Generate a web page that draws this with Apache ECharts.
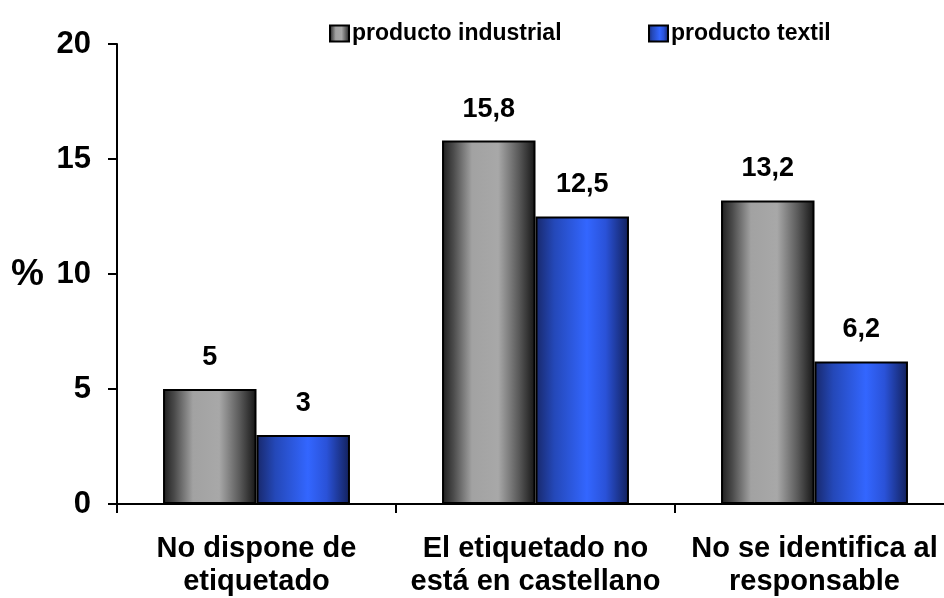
<!DOCTYPE html>
<html><head><meta charset="utf-8">
<script src="https://cdn.jsdelivr.net/npm/echarts@6/dist/echarts.min.js"></script>
<style>html,body{margin:0;padding:0;background:#fff}#c{width:944px;height:598px}</style>
</head><body><div id="c"></div>
<script>
const categories = ['No dispone de\netiquetado', 'El etiquetado no\nestá en castellano', 'No se identifica al\nresponsable'];
const industrial = [5, 15.8, 13.2];
const textil = [3, 12.5, 6.2];
const seriesNames = ['producto industrial', 'producto textil'];

const font = 'Arial, "Liberation Sans", sans-serif';
const grayGrad = new echarts.graphic.LinearGradient(0, 0, 1, 0, [
  {offset: 0, color: '#1e1e1e'}, {offset: 0.12, color: '#4a4a4a'}, {offset: 0.32, color: '#a2a2a2'},
  {offset: 0.6, color: '#a8a8a8'}, {offset: 0.82, color: '#5a5a5a'}, {offset: 1, color: '#141414'}]);
const blueGrad = new echarts.graphic.LinearGradient(0, 0, 1, 0, [
  {offset: 0, color: '#18286a'}, {offset: 0.2, color: '#2448b8'}, {offset: 0.55, color: '#3366ff'},
  {offset: 0.75, color: '#2a52d8'}, {offset: 1, color: '#12205a'}]);

const lbl = {show: true, position: 'top', distance: 18, color: '#000', fontWeight: 'bold', fontSize: 27, fontFamily: font,
  formatter: p => String(p.value).replace('.', ',')};

const legendText = {fontWeight: 'bold', fontSize: 23, fontFamily: font, color: '#000', padding: [0,0,0,-2]};

const chart = echarts.init(document.getElementById('c'));
chart.setOption({
  animation: false,
  grid: {left: 117, top: 44, right: -10, bottom: 94, containLabel: false, outerBoundsMode: 'none'},
  legend: [
    {data: [seriesNames[0]], left: 324, top: 17, icon: 'rect', itemWidth: 19, itemHeight: 16, itemGap: 4, textStyle: legendText},
    {data: [seriesNames[1]], left: 643, top: 17, icon: 'rect', itemWidth: 19, itemHeight: 16, itemGap: 4, textStyle: legendText}
  ],
  xAxis: {type: 'category', data: categories,
    axisLine: {lineStyle: {color: '#000', width: 2}},
    axisTick: {show: true, length: 9, lineStyle: {color: '#000', width: 2}},
    axisLabel: {color: '#000', fontWeight: 'bold', fontSize: 29, fontFamily: font, lineHeight: 33, margin: 28, interval: 0}},
  yAxis: {type: 'value', min: 0, max: 20, interval: 5,
    axisLine: {show: true, lineStyle: {color: '#000', width: 2}},
    axisTick: {show: true, length: 9, lineStyle: {color: '#000', width: 2}},
    splitLine: {show: false},
    axisLabel: {color: '#000', fontWeight: 'bold', fontSize: 31, fontFamily: font, margin: 26}},
  graphic: [{type: 'text', left: 11, top: 256, style: {text: '%', fill: '#000', font: 'bold 37px ' + font}}],
  series: [
    {name: seriesNames[0], type: 'bar', data: industrial, barGap: 0, barCategoryGap: '33%',
     itemStyle: {color: grayGrad, borderColor: '#000', borderWidth: 2}, label: lbl},
    {name: seriesNames[1], type: 'bar', data: textil, barGap: 0, barCategoryGap: '33%',
     itemStyle: {color: blueGrad, borderColor: '#000', borderWidth: 2}, label: lbl}
  ]
});
</script></body></html>
